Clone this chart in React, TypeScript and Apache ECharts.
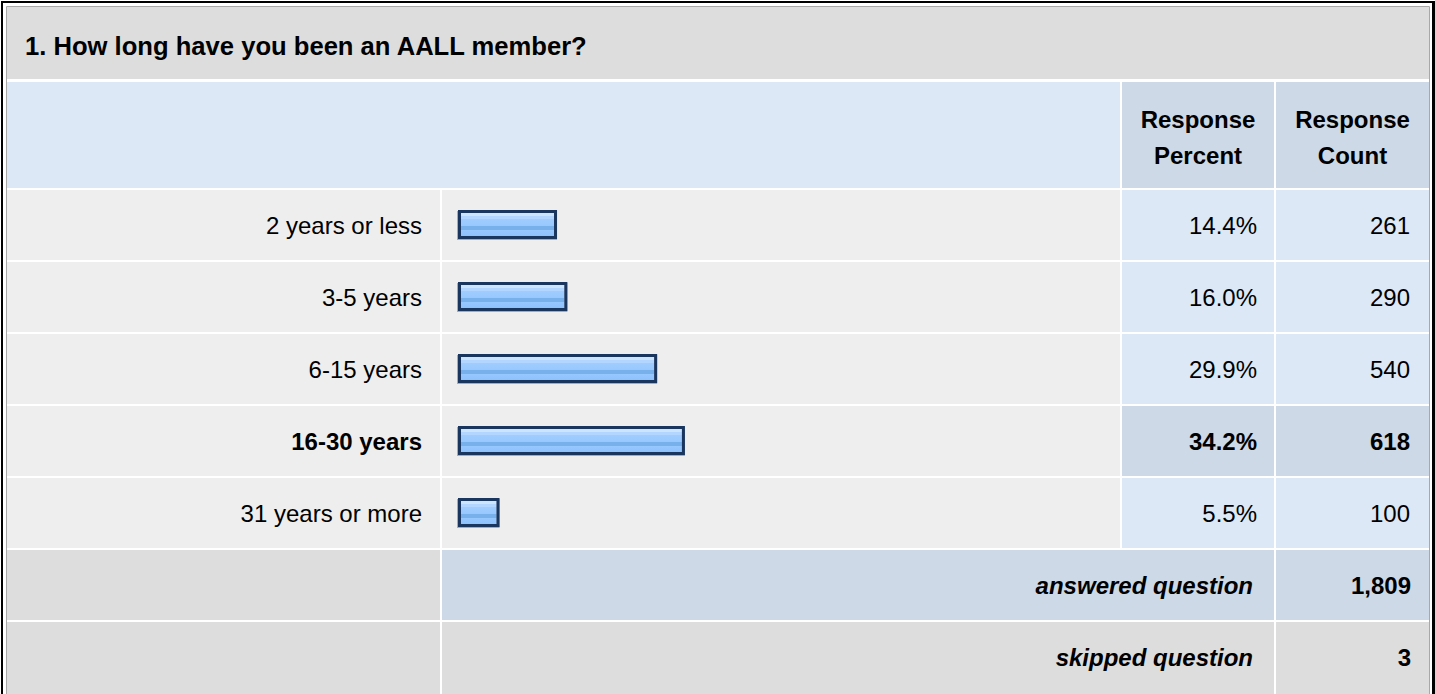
import React, { useEffect, useRef } from 'react';
import * as echarts from 'echarts';

// ---- data ----
const questionTitle = '1. How long have you been an AALL member?';
const categories = ['2 years or less', '3-5 years', '6-15 years', '16-30 years', '31 years or more'];
const percents = [14.4, 16.0, 29.9, 34.2, 5.5];
const counts = [261, 290, 540, 618, 100];
const headerPercent = 'Response\nPercent';
const headerCount = 'Response\nCount';
const answeredLabel = 'answered question';
const answeredCount = 1809;
const skippedLabel = 'skipped question';
const skippedCount = 3;

// ---- layout / style ----
const FONT = '"Liberation Sans", Arial, Helvetica, sans-serif';
const FS = 24;
const X0 = 7, X1 = 440, X2 = 442, X3 = 1120, X4 = 1122, X5 = 1274, X6 = 1276, X7 = 1429;
const TITLE_Y = 7, TITLE_H = 72;
const HEAD_Y = 82, HEAD_H = 106;
const ROW_Y = 190, ROW_H = 70, PITCH = 72;
const GRID_LEFT = 461, GRID_W = 646;
const PCT_RIGHT = 1257, CNT_RIGHT = 1410, LABEL_RIGHT = 422, SUM_RIGHT = 1253;

const C_GRAY = '#dddddd';
const C_ROW = '#eeeeee';
const C_BLUE = '#dce8f5';
const C_BLUE2 = '#cdd9e6';

function rect(x: number, y: number, w: number, h: number, fill: string) {
  return { type: 'rect', z: 0, silent: true, shape: { x, y, width: w, height: h }, style: { fill } };
}

function text(x: number, y: number, t: string, align: string, opts: any = {}) {
  return {
    type: 'text',
    z: 20,
    x,
    y,
    silent: true,
    style: {
      text: t,
      fontSize: opts.size || FS,
      fontFamily: FONT,
      fontWeight: opts.bold ? 'bold' : 'normal',
      fontStyle: opts.italic ? 'italic' : 'normal',
      fill: '#000',
      align,
      textAlign: align,
      verticalAlign: 'middle',
      textVerticalAlign: 'middle',
      lineHeight: opts.lineHeight || (opts.size || FS),
    },
  };
}

export default function App() {
  const ref = useRef<HTMLDivElement>(null);

  useEffect(() => {
    if (!ref.current) return;
    const chart = echarts.init(ref.current, undefined, { renderer: 'svg' });
    const n = categories.length;
    const hi = percents.indexOf(Math.max(...percents));

    const g: any[] = [];
    // frame
    g.push(rect(1, 1, 1434, 700, '#000'));
    g.push(rect(3, 3, 1429, 700, '#fff'));
    g.push({
      type: 'rect', z: 0, silent: true,
      shape: { x: 6.5, y: 6.5, width: X7 - 6, height: 700 },
      style: { fill: 'none', stroke: '#a8a8a8', lineWidth: 1 },
    });
    // title row
    g.push(rect(X0, TITLE_Y, X7 - X0, TITLE_H, C_GRAY));
    // header
    g.push(rect(X0, HEAD_Y, X3 - X0, HEAD_H, C_BLUE));
    g.push(rect(X4, HEAD_Y, X5 - X4, HEAD_H, C_BLUE2));
    g.push(rect(X6, HEAD_Y, X7 - X6, HEAD_H, C_BLUE2));
    // data rows
    for (let i = 0; i < n; i++) {
      const y = ROW_Y + PITCH * i;
      const c = i === hi ? C_BLUE2 : C_BLUE;
      g.push(rect(X0, y, X1 - X0, ROW_H, C_ROW));
      g.push(rect(X2, y, X3 - X2, ROW_H, C_ROW));
      g.push(rect(X4, y, X5 - X4, ROW_H, c));
      g.push(rect(X6, y, X7 - X6, ROW_H, c));
      const yc = y + ROW_H / 2;
      g.push(text(PCT_RIGHT, yc, percents[i].toFixed(1) + '%', 'right', { bold: i === hi }));
      g.push(text(CNT_RIGHT, yc, counts[i].toLocaleString('en-US'), 'right', { bold: i === hi }));
    }
    // answered row
    const ya = ROW_Y + PITCH * n;
    g.push(rect(X0, ya, X1 - X0, ROW_H, C_GRAY));
    g.push(rect(X2, ya, X5 - X2, ROW_H, C_BLUE2));
    g.push(rect(X6, ya, X7 - X6, ROW_H, C_BLUE2));
    // skipped row
    const ys = ya + PITCH;
    g.push(rect(X0, ys, X1 - X0, ROW_H + 4, C_GRAY));
    g.push(rect(X2, ys, X5 - X2, ROW_H + 4, C_GRAY));
    g.push(rect(X6, ys, X7 - X6, ROW_H + 4, C_GRAY));

    // texts
    g.push(text(25, TITLE_Y + TITLE_H / 2 + 3, questionTitle, 'left', { bold: true, size: 25.6 }));
    g.push(text((X4 + X5) / 2, HEAD_Y + HEAD_H / 2 + 2, headerPercent, 'center', { bold: true, lineHeight: 36 }));
    g.push(text((X6 + X7) / 2, HEAD_Y + HEAD_H / 2 + 2, headerCount, 'center', { bold: true, lineHeight: 36 }));
    g.push(text(SUM_RIGHT, ya + ROW_H / 2, answeredLabel, 'right', { bold: true, italic: true }));
    g.push(text(CNT_RIGHT + 1, ya + ROW_H / 2, answeredCount.toLocaleString('en-US'), 'right', { bold: true }));
    g.push(text(SUM_RIGHT, ys + ROW_H / 2, skippedLabel, 'right', { bold: true, italic: true }));
    g.push(text(CNT_RIGHT + 1, ys + ROW_H / 2, skippedCount.toLocaleString('en-US'), 'right', { bold: true }));

    const barFill = new echarts.graphic.LinearGradient(0, 0, 0, 1, [
      { offset: 0, color: '#cbe4ff' },
      { offset: 0.13, color: '#cbe4ff' },
      { offset: 0.13, color: '#b2d6ff' },
      { offset: 0.26, color: '#b2d6ff' },
      { offset: 0.26, color: '#a0cdff' },
      { offset: 0.56, color: '#98c8ff' },
      { offset: 0.56, color: '#78b0ec' },
      { offset: 0.76, color: '#78b0ec' },
      { offset: 0.76, color: '#96c7ff' },
      { offset: 1, color: '#8ec1fb' },
    ]);

    chart.setOption({
      animation: false,
      backgroundColor: '#fff',
      graphic: { elements: g },
      grid: {
        left: GRID_LEFT, top: ROW_Y - 1, width: GRID_W, height: PITCH * n,
        containLabel: false, outerBoundsMode: 'none',
      },
      xAxis: { type: 'value', min: 0, max: 100, show: false },
      yAxis: {
        type: 'category', inverse: true, position: 'left', z: 10,
        data: categories.map((c, i) => ({ value: c, textStyle: { fontWeight: i === hi ? 'bold' : 'normal' } })),
        axisLine: { show: false }, axisTick: { show: false }, splitLine: { show: false },
        axisLabel: { fontSize: FS, fontFamily: FONT, color: '#000', interval: 0, margin: GRID_LEFT - LABEL_RIGHT },
      },
      series: [
        {
          type: 'custom',
          z: 10,
          encode: { x: 0, y: 1 },
          data: percents.map((p, i) => [p, i]),
          renderItem: (params: any, api: any) => {
            const i = api.value(1);
            const s = api.coord([0, i]);
            const e = api.coord([api.value(0), i]);
            const w = e[0] - s[0];
            const ih = 23;
            const top = s[1] - 0.5 - ih / 2;
            return {
              type: 'group',
              children: [
                {
                  type: 'rect',
                  shape: { x: s[0] - 4, y: top - 2, width: w + 7, height: ih + 6 },
                  style: { fill: 'rgba(70,90,130,0.45)' },
                },
                {
                  type: 'rect',
                  shape: { x: s[0], y: top, width: w, height: ih },
                  style: { fill: barFill },
                },
                {
                  type: 'rect',
                  shape: { x: s[0] - 1.5, y: top - 1.5, width: w + 3, height: ih + 3 },
                  style: { fill: 'none', stroke: '#1a355e', lineWidth: 3 },
                },
              ],
            };
          },
        },
      ],
    });
    return () => chart.dispose();
  }, []);

  return <div ref={ref} style={{ position: 'fixed', left: 0, top: 0, width: 1435, height: 694 }} />;
}
